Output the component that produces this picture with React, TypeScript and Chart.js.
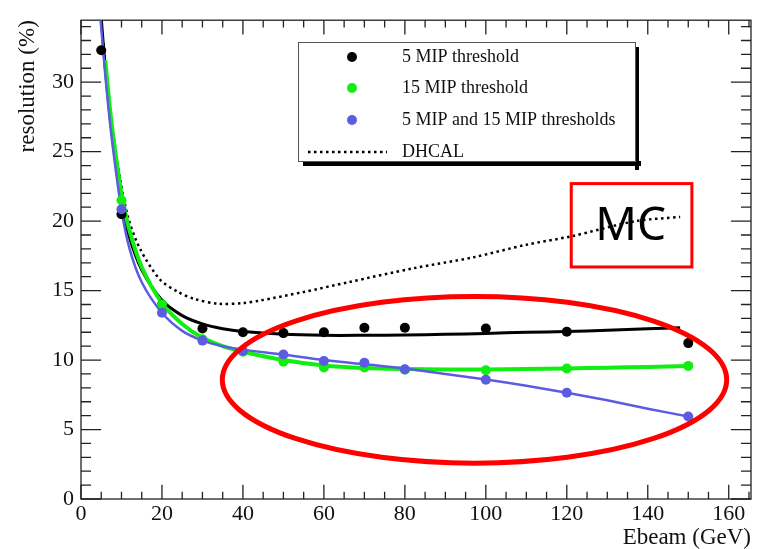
import React, { useEffect, useRef } from 'react';
import { Chart, registerables } from 'chart.js';

Chart.register(...registerables);

// ---- data ----
const mip5Energies = [5, 10, 20, 30, 40, 50, 60, 70, 80, 100, 120, 150];
const mip5Values = [32.3, 20.5, 14.0, 12.27, 12.0, 11.94, 12.0, 12.32, 12.32, 12.27, 12.04, 11.22];

const energies = [10, 20, 30, 40, 50, 60, 70, 80, 100, 120, 150];
const mip15Values = [21.5, 14.0, 11.5, 10.6, 9.88, 9.46, 9.46, 9.3, 9.27, 9.39, 9.58];
const mipBothValues = [20.85, 13.4, 11.4, 10.65, 10.4, 9.93, 9.81, 9.34, 8.59, 7.65, 5.94];

const fit5X = [5, 6, 7, 8, 10, 12, 15, 20, 25, 30, 35, 40, 50, 60, 70, 80, 90, 100, 110, 120, 130, 140, 148];
const fit5Y = [34.6, 31, 28, 25.5, 21.3, 18.8, 16.5, 14.3, 13.2, 12.6, 12.25, 12.05, 11.85, 11.78, 11.78, 11.8, 11.85, 11.92, 12.0, 12.05, 12.15, 12.25, 12.32];

const fit15X = [6, 7, 8, 10, 12, 15, 20, 25, 30, 35, 40, 50, 60, 70, 80, 90, 100, 110, 120, 130, 140, 150];
const fit15Y = [31.6, 28.5, 26, 22, 19.3, 16.7, 14.1, 12.6, 11.6, 11.0, 10.6, 10.0, 9.6, 9.42, 9.35, 9.32, 9.32, 9.35, 9.4, 9.45, 9.5, 9.58];

const fitBothX = [4.8, 6, 7, 8, 10, 12, 15, 20, 25, 30, 35, 40, 50, 60, 70, 80, 90, 100, 110, 120, 130, 140, 150];
const fitBothY = [34.6, 30.5, 27.5, 25, 20.8, 18.0, 15.6, 13.4, 12.1, 11.4, 11.0, 10.75, 10.4, 10.0, 9.7, 9.4, 9.0, 8.6, 8.15, 7.65, 7.1, 6.5, 5.94];

const dhcalX = [5.6, 6.5, 7.7, 9.7, 11.7, 14.6, 19.5, 24, 28, 34, 40, 44, 55, 66, 82, 97, 110, 121, 137, 148];
const dhcalY = [32.8, 29.5, 26.8, 23, 20.2, 18.0, 15.8, 14.9, 14.4, 14.05, 14.1, 14.27, 14.9, 15.6, 16.6, 17.4, 18.3, 18.9, 20.0, 20.3];

const xTickValues = [0, 20, 40, 60, 80, 100, 120, 140, 160];
const yTickValues = [0, 5, 10, 15, 20, 25, 30];

const seriesNames = ['5 MIP threshold', '15 MIP threshold', '5 MIP and 15 MIP thresholds', 'DHCAL'];
const annotationText = 'MC';

// ---- styles ----
const BLACK = '#000000';
const GREEN = '#11ee11';
const BLUE = '#5c5ce0';
const SERIF = '"Liberation Serif", "DejaVu Serif", serif';
const DHCAL_DASH = [2.5, 3.5];

const toXY = (xs: number[], ys: number[]) => xs.map((x, i) => ({ x, y: ys[i] }));

const framePlugin = {
  id: 'rootFrame',
  beforeDatasetsDraw(chart: any) {
    const { ctx, chartArea: a, scales } = chart;
    const xs = scales.x;
    const ys = scales.y;
    const h = a.bottom - a.top;
    const w = a.right - a.left;
    const xMaj = h * 0.03;
    const yMaj = w * 0.03;
    ctx.save();
    ctx.strokeStyle = '#222';
    ctx.lineWidth = 1.3;
    ctx.strokeRect(a.left, a.top, w, h);
    ctx.beginPath();
    for (let v = 0; v <= xs.max; v += 5) {
      const px = xs.getPixelForValue(v);
      const len = v % 20 === 0 ? xMaj : xMaj / 2;
      ctx.moveTo(px, a.bottom);
      ctx.lineTo(px, a.bottom - len);
      ctx.moveTo(px, a.top);
      ctx.lineTo(px, a.top + len);
    }
    for (let v = 0; v <= ys.max; v += 1) {
      const py = ys.getPixelForValue(v);
      const len = v % 5 === 0 ? yMaj : yMaj / 2;
      ctx.moveTo(a.left, py);
      ctx.lineTo(a.left + len, py);
      ctx.moveTo(a.right, py);
      ctx.lineTo(a.right - len, py);
    }
    ctx.stroke();
    ctx.restore();
  },
};

const legendPlugin = {
  id: 'rootLegend',
  afterDatasetsDraw(chart: any) {
    const { ctx } = chart;
    const bx = 298, by = 42, bw = 338, bh = 120;
    ctx.save();
    ctx.fillStyle = '#000';
    ctx.fillRect(bx + 5, by + bh - 1, bw, 5);
    ctx.fillRect(bx + bw - 1, by + 5, 4, bh + 3);
    ctx.fillStyle = '#fff';
    ctx.fillRect(bx, by, bw, bh);
    ctx.strokeStyle = '#555';
    ctx.lineWidth = 1;
    ctx.strokeRect(bx + 0.5, by + 0.5, bw - 1, bh - 1);
    const colors = [BLACK, GREEN, BLUE];
    const rowY = [57, 88, 120, 152];
    ctx.font = `18px ${SERIF}`;
    ctx.textBaseline = 'middle';
    ctx.textAlign = 'left';
    for (let i = 0; i < 3; i++) {
      ctx.fillStyle = colors[i];
      ctx.beginPath();
      ctx.arc(352, rowY[i], 5, 0, Math.PI * 2);
      ctx.fill();
    }
    ctx.strokeStyle = BLACK;
    ctx.lineWidth = 2.5;
    ctx.setLineDash(DHCAL_DASH);
    ctx.beginPath();
    ctx.moveTo(308, rowY[3]);
    ctx.lineTo(387, rowY[3]);
    ctx.stroke();
    ctx.setLineDash([]);
    ctx.fillStyle = '#111';
    seriesNames.forEach((n, i) => ctx.fillText(n, 402, rowY[i]));
    ctx.restore();
  },
};

const annotationPlugin = {
  id: 'mcAnnotation',
  afterDraw(chart: any) {
    const { ctx, scales } = chart;
    const X = (v: number) => scales.x.getPixelForValue(v);
    const Y = (v: number) => scales.y.getPixelForValue(v);
    ctx.save();
    const cx = X(97.2), cy = Y(8.58);
    const rx = X(97.2 + 62.3) - cx;
    const ry = cy - Y(8.58 + 6.0);
    ctx.strokeStyle = '#ff0000';
    ctx.lineWidth = 5;
    ctx.beginPath();
    ctx.ellipse(cx, cy, rx, ry, 0, 0, Math.PI * 2);
    ctx.stroke();
    const x1 = X(121.1), x2 = X(150.9), y1 = Y(22.7), y2 = Y(16.7);
    ctx.lineWidth = 3;
    ctx.strokeRect(x1, y1, x2 - x1, y2 - y1);
    ctx.fillStyle = '#000';
    ctx.font = '46px "Noto Sans", "Open Sans", sans-serif';
    ctx.textAlign = 'center';
    ctx.textBaseline = 'middle';
    ctx.fillText(annotationText, (x1 + x2) / 2 - 1, (y1 + y2) / 2 + 2);
    ctx.restore();
  },
};

export default function App() {
  const ref = useRef<HTMLCanvasElement>(null);
  useEffect(() => {
    const canvas = ref.current;
    if (!canvas) return;
    const lineDs = (label: string, data: any[], color: string, width: number, order: number, dash: number[] = []) => ({
      label,
      data,
      showLine: true,
      borderColor: color,
      borderWidth: width,
      borderDash: dash,
      pointRadius: 0,
      tension: 0.3,
      fill: false,
      clip: 0,
      order,
    });
    const pointDs = (label: string, data: any[], color: string, order: number) => ({
      label,
      data,
      showLine: false,
      pointRadius: 5,
      pointBorderWidth: 0,
      pointBackgroundColor: color,
      borderColor: color,
      clip: 0,
      order,
    });
    const chart = new Chart(canvas, {
      type: 'line',
      data: {
        datasets: [
          lineDs(seriesNames[3], toXY(dhcalX, dhcalY), BLACK, 2.5, 7, DHCAL_DASH),
          lineDs(seriesNames[0] + ' fit', toXY(fit5X, fit5Y), BLACK, 3, 6),
          lineDs(seriesNames[1] + ' fit', toXY(fit15X, fit15Y), GREEN, 4, 5),
          lineDs(seriesNames[2] + ' fit', toXY(fitBothX, fitBothY), BLUE, 2.5, 4),
          pointDs(seriesNames[0], toXY(mip5Energies, mip5Values), BLACK, 3),
          pointDs(seriesNames[1], toXY(energies, mip15Values), GREEN, 2),
          pointDs(seriesNames[2], toXY(energies, mipBothValues), BLUE, 1),
        ] as any,
      },
      options: {
        animation: false,
        responsive: true,
        maintainAspectRatio: false,
        layout: { padding: { top: 10, right: 32, left: 0, bottom: 0 } },
        plugins: { legend: { display: false }, tooltip: { enabled: false } },
        scales: {
          x: {
            type: 'linear',
            min: 0,
            max: 165.5,
            afterFit: (s: any) => { s.height = 50; },
            afterBuildTicks: (s: any) => { s.ticks = xTickValues.map((v) => ({ value: v })); },
            grid: { display: false, drawTicks: false },
            border: { display: false },
            ticks: { font: { family: SERIF, size: 22 }, color: '#111', padding: 2, maxRotation: 0, autoSkip: false },
            title: { display: true, text: 'Ebeam (GeV)', align: 'end', color: '#111', font: { family: SERIF, size: 23, lineHeight: 1 }, padding: 0 },
          },
          y: {
            type: 'linear',
            min: 0,
            max: 34.46,
            afterFit: (s: any) => { s.width = 81; },
            afterBuildTicks: (s: any) => { s.ticks = yTickValues.map((v) => ({ value: v })); },
            grid: { display: false, drawTicks: false },
            border: { display: false },
            ticks: { font: { family: SERIF, size: 22 }, color: '#111', padding: 7, autoSkip: false },
            title: { display: true, text: 'resolution (%)', align: 'end', color: '#111', font: { family: SERIF, size: 23, lineHeight: 1 }, padding: { top: 16, bottom: 0 } },
          },
        },
      } as any,
      plugins: [framePlugin, legendPlugin, annotationPlugin],
    });
    return () => chart.destroy();
  }, []);
  return (
    <div style={{ position: 'fixed', left: 0, top: 0, width: 783, height: 549 }}>
      <canvas ref={ref} />
    </div>
  );
}
